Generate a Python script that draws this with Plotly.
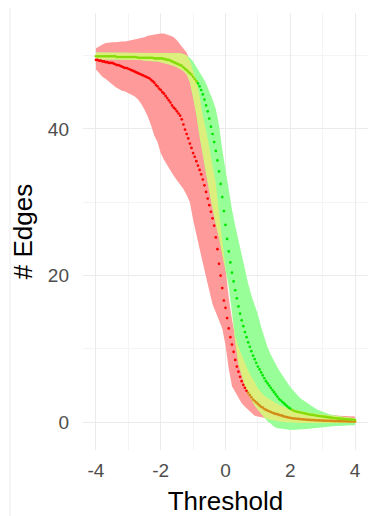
import numpy as np
import plotly.graph_objects as go

# threshold grid for the mean points (step 0.05) and for the bands (step 0.1)
THRESH = np.linspace(-4, 4, 161)
THRESH_BAND = np.linspace(-4, 4, 81)

RED_MEAN = [
    49.4, 49.4, 49.3, 49.3, 49.2, 49.2, 49.1, 49.1, 49.0, 49.0,
    49.0, 48.9, 48.8, 48.7, 48.7, 48.6, 48.5, 48.4, 48.3, 48.3,
    48.2, 48.1, 48.0, 47.9, 47.8, 47.7, 47.6, 47.5, 47.4, 47.3,
    47.2, 47.1, 47.0, 46.9, 46.7, 46.5, 46.3, 46.0, 45.8, 45.5,
    45.3, 45.0, 44.8, 44.5, 44.2, 43.9, 43.6, 43.2, 42.9, 42.7,
    42.4, 42.1, 41.8, 41.3, 40.6, 39.9, 39.3, 38.7, 38.0, 37.4,
    36.7, 36.2, 35.6, 35.0, 34.4, 33.8, 33.1, 32.3, 31.4, 30.5,
    29.6, 28.7, 27.8, 26.8, 25.2, 23.6, 21.6, 20.0, 18.3, 16.6,
    15.6, 14.2, 12.8, 11.6, 10.6, 9.6, 8.5, 7.6, 6.9, 6.2,
    5.6, 5.1, 4.7, 4.3, 4.0, 3.7, 3.4, 3.1, 2.9, 2.7,
    2.5, 2.3, 2.1, 2.0, 1.8, 1.7, 1.6, 1.5, 1.4, 1.3,
    1.2, 1.15, 1.1, 1.0, 0.95, 0.9, 0.8, 0.75, 0.7, 0.65,
    0.6, 0.55, 0.52, 0.5, 0.48, 0.45, 0.43, 0.41, 0.4, 0.38,
    0.36, 0.34, 0.32, 0.3, 0.3, 0.28, 0.27, 0.26, 0.25, 0.24,
    0.23, 0.22, 0.21, 0.2, 0.2, 0.19, 0.18, 0.17, 0.17, 0.16,
    0.15, 0.15, 0.14, 0.14, 0.13, 0.13, 0.12, 0.12, 0.11, 0.11,
    0.1,
]

GREEN_MEAN = [
    49.9, 49.9, 49.9, 49.9, 49.9, 49.9, 49.9, 49.9, 49.9, 49.9,
    49.9, 49.9, 49.9, 49.8, 49.8, 49.8, 49.8, 49.8, 49.8, 49.8,
    49.8, 49.8, 49.8, 49.8, 49.8, 49.8, 49.7, 49.7, 49.7, 49.7,
    49.7, 49.7, 49.7, 49.7, 49.7, 49.7, 49.6, 49.6, 49.6, 49.6,
    49.6, 49.6, 49.5, 49.5, 49.4, 49.4, 49.3, 49.2, 49.1, 49.0,
    48.9, 48.8, 48.7, 48.6, 48.4, 48.2, 48.0, 47.8, 47.6, 47.4,
    47.1, 46.8, 46.5, 46.2, 45.8, 45.3, 44.7, 44.0, 43.2, 42.4,
    41.4, 40.3, 39.3, 38.2, 37.0, 35.7, 34.2, 32.5, 30.7, 28.8,
    26.9, 25.0, 23.3, 21.8, 20.4, 19.2, 18.0, 16.9, 15.8, 14.8,
    13.9, 13.1, 12.3, 11.6, 10.9, 10.3, 9.7, 9.1, 8.6, 8.1,
    7.6, 7.2, 6.8, 6.4, 6.0, 5.6, 5.3, 5.0, 4.7, 4.4,
    4.1, 3.8, 3.5, 3.2, 3.0, 2.8, 2.6, 2.4, 2.2, 2.0,
    1.85, 1.7, 1.6, 1.5, 1.45, 1.4, 1.35, 1.3, 1.25, 1.2,
    1.15, 1.1, 1.06, 1.02, 1.0, 0.96, 0.92, 0.88, 0.85, 0.82,
    0.79, 0.76, 0.73, 0.7, 0.67, 0.64, 0.61, 0.58, 0.55, 0.53,
    0.51, 0.49, 0.47, 0.45, 0.43, 0.41, 0.39, 0.37, 0.35, 0.33,
    0.3,
]

RED_UPPER = [
    51.0, 51.3, 51.5, 51.7, 51.8, 51.8, 51.8, 51.9, 51.9, 51.9,
    52.0, 52.0, 52.1, 52.2, 52.4, 52.5, 52.7, 52.8, 52.9, 53.0,
    53.0, 53.0, 52.9, 52.7, 52.5, 52.1, 51.5, 51.0, 50.4, 49.3,
    47.8, 46.6, 44.5, 41.8, 39.8, 37.3, 35.0, 32.6, 28.5, 25.0,
    21.0, 17.0, 14.0, 11.8, 10.3, 9.2, 8.2, 7.0, 6.2, 5.5,
    4.6, 4.1, 3.6, 3.3, 3.0, 2.7, 2.5, 2.3, 2.1, 2.0,
    1.8, 1.7, 1.6, 1.5, 1.4, 1.35, 1.3, 1.2, 1.15, 1.1,
    1.05, 1.0, 1.0, 0.95, 0.95, 0.9, 0.9, 0.85, 0.85, 0.8,
    0.8,
]

RED_LOWER = [
    48.1, 47.6, 47.1, 46.8, 46.5, 46.1, 45.7, 45.4, 45.2, 45.1,
    44.9, 44.7, 44.4, 44.0, 43.4, 42.6, 41.7, 40.5, 39.1, 38.2,
    36.7, 35.8, 35.0, 34.3, 33.6, 33.0, 32.4, 31.8, 31.0, 30.0,
    27.6, 25.5, 23.8, 21.7, 19.8, 17.8, 16.1, 15.0, 14.0, 12.8,
    10.5, 7.3, 4.9, 4.1, 3.4, 2.6, 2.1, 1.7, 1.2, 0.9,
    0.8, 0.7, 0.5, 0.4, 0.3, 0.2, 0.15, 0.1, 0.05, 0.0,
    -0.05, -0.1, -0.1, -0.1, -0.1, -0.1, -0.1, -0.1, -0.1, -0.1,
    -0.1, -0.1, -0.1, -0.1, -0.1, -0.1, -0.1, -0.1, -0.1, -0.1,
    -0.1,
]

GREEN_UPPER = [
    50.4, 50.4, 50.4, 50.4, 50.4, 50.4, 50.4, 50.4, 50.4, 50.4,
    50.4, 50.4, 50.4, 50.4, 50.4, 50.4, 50.4, 50.4, 50.4, 50.4,
    50.4, 50.4, 50.4, 50.4, 50.4, 50.3, 50.3, 50.2, 50.0, 49.7,
    49.2, 48.5, 47.8, 47.0, 46.2, 45.2, 44.0, 42.7, 40.5, 37.2,
    34.5, 31.5, 29.0, 26.8, 24.8, 22.5, 20.6, 18.9, 17.3, 16.0,
    14.7, 13.0, 11.5, 10.2, 9.2, 8.3, 7.5, 6.8, 6.1, 5.4,
    4.8, 4.3, 3.8, 3.3, 3.0, 2.7, 2.35, 2.1, 1.8, 1.6,
    1.4, 1.2, 1.1, 1.0, 0.9, 0.8, 0.75, 0.7, 0.65, 0.6,
    0.55,
]

GREEN_LOWER = [
    49.5, 49.5, 49.5, 49.5, 49.5, 49.5, 49.5, 49.5, 49.5, 49.5,
    49.5, 49.5, 49.4, 49.4, 49.4, 49.3, 49.3, 49.3, 49.2, 49.2,
    49.1, 49.0, 48.9, 48.8, 48.6, 48.4, 48.2, 47.9, 47.4, 46.4,
    44.3, 42.0, 39.0, 36.7, 34.0, 31.5, 29.0, 27.0, 25.2, 23.0,
    21.0, 18.5, 15.0, 11.0, 8.0, 6.3, 4.9, 3.9, 3.0, 2.3,
    1.7, 1.2, 0.7, 0.1, -0.2, -0.6, -0.8, -0.9, -1.0, -1.0,
    -1.05, -1.05, -1.0, -1.0, -0.95, -0.9, -0.85, -0.8, -0.8, -0.75,
    -0.7, -0.6, -0.6, -0.55, -0.5, -0.5, -0.45, -0.45, -0.4, -0.4,
    -0.4,
]

X_TICKS = [-4, -2, 0, 2, 4]
X_TICK_TEXT = ["-4", "-2", "0", "2", "4"]
Y_TICKS = [0, 20, 40]
Y_TICK_TEXT = ["0", "20", "40"]

PINK = "#ff9a9a"
LIGHT_GREEN = "#98ff98"
YELLOW = "#dcef7c"
RED = "#ff0000"
ORANGE = "#d48c18"
GREEN = "#00e800"
YELLOW_GREEN = "#86dc0a"

xb = np.array(THRESH_BAND)
ru, rl = np.array(RED_UPPER), np.array(RED_LOWER)
gu, gl = np.array(GREEN_UPPER), np.array(GREEN_LOWER)
ov_lo = np.maximum(rl, gl)
ov_hi = np.maximum(np.minimum(ru, gu), ov_lo)

xp = np.array(THRESH)
rm, gm = np.array(RED_MEAN), np.array(GREEN_MEAN)
glp, gup = np.interp(xp, xb, gl), np.interp(xp, xb, gu)
rlp, rup = np.interp(xp, xb, rl), np.interp(xp, xb, ru)
red_cols = np.where((rm >= glp) & (rm <= gup), ORANGE, RED)
green_cols = np.where((gm >= rlp) & (gm <= rup), YELLOW_GREEN, GREEN)

fig = go.Figure()


def band(lo, hi, color):
    fig.add_trace(go.Scatter(x=xb, y=lo, mode="lines", line=dict(width=0),
                             hoverinfo="skip", showlegend=False))
    fig.add_trace(go.Scatter(x=xb, y=hi, mode="lines", line=dict(width=0),
                             fill="tonexty", fillcolor=color,
                             hoverinfo="skip", showlegend=False))


band(rl, ru, PINK)
band(gl, gu, LIGHT_GREEN)
band(ov_lo, ov_hi, YELLOW)

fig.add_trace(go.Scatter(x=xp, y=rm, mode="markers",
                         marker=dict(size=2.7, color=red_cols, line=dict(width=0)),
                         showlegend=False))
fig.add_trace(go.Scatter(x=xp, y=gm, mode="markers",
                         marker=dict(size=2.7, color=green_cols, line=dict(width=0)),
                         showlegend=False))

# faint outer frame line seen at the left of the reference
fig.add_shape(type="line", xref="paper", yref="paper", x0=-0.256, x1=-0.256,
              y0=1.05, y1=-0.3, line=dict(color="#ececec", width=1))

# the page adds an 8px body margin, so the figure is drawn 8px smaller
fig.update_layout(
    template="none",
    width=380, height=508,
    margin=dict(l=75, r=20, t=5, b=66, autoexpand=False),
    plot_bgcolor="white", paper_bgcolor="white",
    showlegend=False,
    font=dict(family="Liberation Sans", color="#000000"),
    xaxis=dict(
        range=[-4.4, 4.4], tickvals=X_TICKS, ticktext=X_TICK_TEXT,
        automargin=False,
        showgrid=True, gridcolor="#ebebeb", gridwidth=1.2,
        minor=dict(tickvals=[-3, -1, 1, 3], showgrid=True,
                   gridcolor="#f4f4f4", gridwidth=1),
        zeroline=False, showline=False, ticks="",
        ticklabelstandoff=7,
        tickfont=dict(size=19, color="#4d4d4d"),
        title=dict(text="Threshold", font=dict(size=26, color="#000000"),
                   standoff=12),
    ),
    yaxis=dict(
        range=[-3.78, 55.8], tickvals=Y_TICKS, ticktext=Y_TICK_TEXT,
        automargin=False,
        showgrid=True, gridcolor="#ebebeb", gridwidth=1.2,
        minor=dict(tickvals=[10, 30, 50], showgrid=True,
                   gridcolor="#f4f4f4", gridwidth=1),
        zeroline=False, showline=False, ticks="",
        ticklabelstandoff=13,
        tickfont=dict(size=19, color="#4d4d4d"),
        title=dict(text="# Edges", font=dict(size=26, color="#000000"),
                   standoff=10),
    ),
)

fig.write_html("out.html")
